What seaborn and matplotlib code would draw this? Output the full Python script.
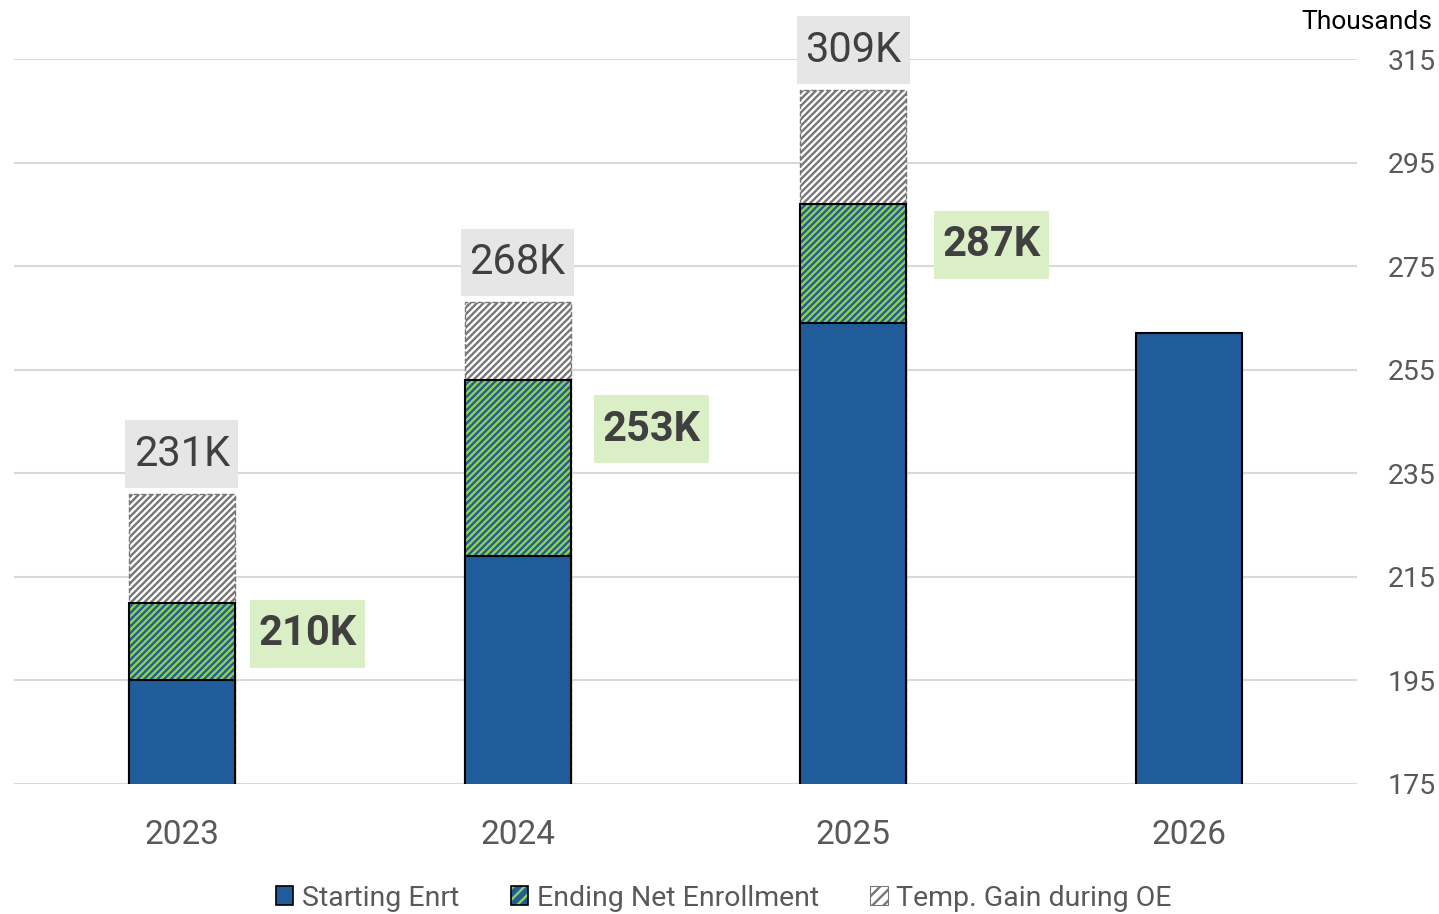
import numpy as np
import pandas as pd
import matplotlib
matplotlib.use("Agg")
import matplotlib.pyplot as plt
import seaborn as sns
from matplotlib.patches import Patch
from matplotlib.path import Path
from matplotlib.legend_handler import HandlerTuple

# ---- data (thousands) ----
years = ["2023", "2024", "2025", "2026"]
starting_enrt = [195, 219, 264, 262]
ending_net = [210, 253, 287, np.nan]
temp_gain_total = [231, 268, 309, np.nan]
y_ticks = [175, 195, 215, 235, 255, 275, 295, 315]

# ---- style ----
BLUE = "#1F5C99"
GREEN = "#92D050"
GREY = "#767676"
GRID = "#D9D9D9"
TXT = "#404040"
TICK = "#595959"
HATCH = "/////"

sns.set_theme(style="white")
plt.rcParams["font.family"] = ["Roboto", "DejaVu Sans"]
plt.rcParams["hatch.linewidth"] = 1.7


def padded_box(x0, y0, width, height, mutation_size, padx=0.2, pady=0.32):
    px = padx * mutation_size
    py = pady * mutation_size
    return Path([(x0 - px, y0 - py), (x0 + width + px, y0 - py),
                 (x0 + width + px, y0 + height + py), (x0 - px, y0 + height + py),
                 (x0 - px, y0 - py)], closed=True)


df = pd.DataFrame({"year": years, "start": starting_enrt,
                   "ending": ending_net, "total": temp_gain_total})

fig = plt.figure(figsize=(14.39, 9.14), dpi=100)
ax = fig.add_axes([14/1439, 1-784/914, (1357-14)/1439, (784-59)/914])

W = 0.315
sub = df.dropna(subset=["total"])
# temp gain (top) layer
sns.barplot(data=sub, x="year", y="total", order=years, color="white", saturation=1,
            edgecolor=GREY, hatch=HATCH, linestyle="--", linewidth=1.0,
            width=W, errorbar=None, ax=ax, zorder=2)
# ending net enrollment hatch fill
sub2 = df.dropna(subset=["ending"])
sns.barplot(data=sub2, x="year", y="ending", order=years, color=BLUE, saturation=1,
            edgecolor=GREEN, hatch=HATCH, linewidth=0,
            width=W, errorbar=None, ax=ax, zorder=3)
# ending border
sns.barplot(data=sub2, x="year", y="ending", order=years, fill=False,
            color="black", edgecolor="black", linewidth=1.5,
            width=W, errorbar=None, ax=ax, zorder=4)
# starting enrollment
sns.barplot(data=df, x="year", y="start", order=years, color=BLUE, saturation=1,
            edgecolor="black", linewidth=1.5,
            width=W, errorbar=None, ax=ax, zorder=5)

ax.set_ylim(175, 315)
ax.set_xlim(-0.5, 3.5)
ax.set_yticks(y_ticks)
ax.set_xlabel("")
ax.set_ylabel("")
ax.yaxis.tick_right()
ax.tick_params(axis="y", length=0, pad=22, labelsize=20.5, labelcolor=TICK)
ax.tick_params(axis="x", length=0, pad=25, labelsize=24, labelcolor=TICK)
ax.yaxis.grid(True, color=GRID, linewidth=1.5)
ax.xaxis.grid(False)
ax.set_axisbelow(True)
for s in ax.spines.values():
    s.set_visible(False)

# labels
PX = 1 / 1.389  # pixels -> points at dpi 100
green_label_dx_px = [126, 134, 138]
green_label_dy_px = [31, 49, 41]
for i, (e, t) in enumerate(zip(ending_net, temp_gain_total)):
    if np.isnan(t):
        continue
    ax.annotate(f"{int(t)}K", (i, t), xytext=(0, 40 * PX), textcoords="offset points",
                ha="center", va="center", fontsize=30, color=TXT, zorder=6,
                bbox=dict(boxstyle=padded_box, fc="#E7E6E6", ec="none"))
    ax.annotate(f"{int(e)}K", (i, e),
                xytext=(green_label_dx_px[i] * PX, -green_label_dy_px[i] * PX),
                textcoords="offset points", ha="center", va="center", fontsize=30,
                fontweight="bold", color=TXT, zorder=6,
                bbox=dict(boxstyle=padded_box, fc="#DAEFC6", ec="none"))

fig.text(1432/1439, 1-22/914, "Thousands", ha="right", va="center", fontsize=19, color="black")

handles = [
    Patch(facecolor=BLUE, edgecolor="black", linewidth=1.2),
    (Patch(facecolor=BLUE, edgecolor=GREEN, hatch="///", linewidth=0),
     Patch(facecolor="none", edgecolor="black", linewidth=1.2)),
    Patch(facecolor="white", edgecolor=GREY, hatch="///", linewidth=0.8),
]
labels = ["Starting Enrt", "Ending Net Enrollment", "Temp. Gain during OE"]
fig.legend(handles, labels, loc="center", bbox_to_anchor=(0.503, 1-898/914), ncol=3,
           frameon=False, fontsize=20.5, handlelength=0.62, handleheight=0.62,
           handletextpad=0.3, columnspacing=1.8, labelcolor=TICK,
           handler_map={tuple: HandlerTuple(ndivide=1, pad=0)})

fig.savefig("out.png", dpi=100)
